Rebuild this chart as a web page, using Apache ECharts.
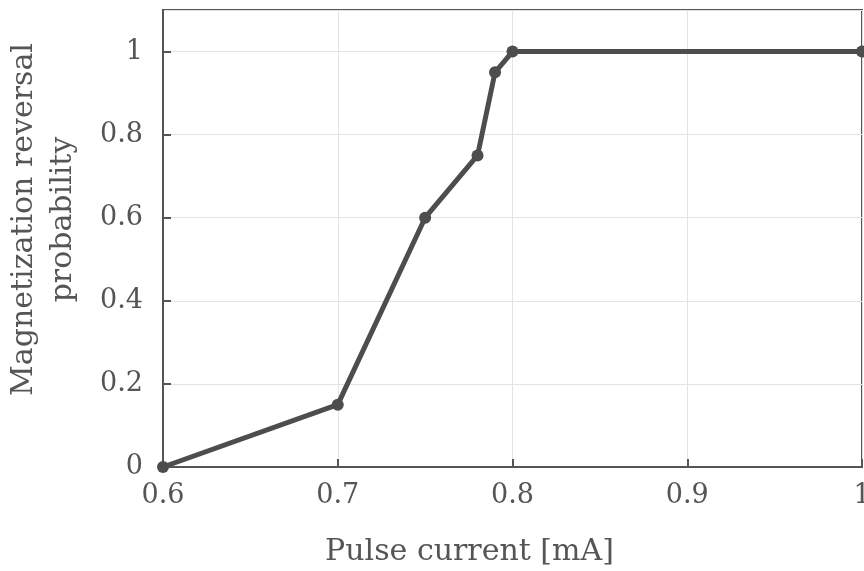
<!DOCTYPE html>
<html>
<head>
<meta charset="utf-8">
<script src="https://cdn.jsdelivr.net/npm/echarts@6/dist/echarts.min.js"></script>
<style>
  html, body { margin: 0; padding: 0; background: #fff; }
  #main { width: 864px; height: 571px; }
</style>
</head>
<body>
<div id="main"></div>
<script>
var current = [0.6, 0.7, 0.75, 0.78, 0.79, 0.8, 1.0];
var probability = [0, 0.15, 0.6, 0.75, 0.95, 1, 1];
var xTitle = 'Pulse current [mA]';
var yTitle = 'Magnetization reversal\nprobability';

var chart = echarts.init(document.getElementById('main'));
var ink = '#555';
var font = 'DejaVu Serif';

chart.setOption({
    animation: false,
    textStyle: { fontFamily: font },
    grid: {
        left: 163, right: 2, top: 10, bottom: 104,
        outerBoundsMode: 'none',
        show: true, borderColor: ink, borderWidth: 2
    },
    xAxis: {
        type: 'value',
        min: 0.6,
        max: 1.0,
        interval: 0.1,
        name: xTitle,
        nameLocation: 'middle',
        nameGap: 70,
        nameTextStyle: {
            color: ink, fontSize: 30, fontFamily: font,
            padding: [0, 86, 0, 0]
        },
        axisLine: { show: true, lineStyle: { color: ink, width: 2 } },
        axisTick: { show: true, inside: true, length: 8, lineStyle: { color: ink, width: 2 } },
        axisLabel: {
            color: ink, fontSize: 27, fontFamily: font, margin: 15,
            formatter: function(v) { return v === 1 ? '1' : v.toFixed(1); }
        },
        splitLine: { show: true, lineStyle: { color: '#e3e3e3', width: 1 } }
    },
    yAxis: {
        type: 'value',
        min: 0,
        max: 1.1,
        interval: 0.2,
        name: yTitle,
        nameLocation: 'middle',
        nameGap: 80,
        nameTextStyle: {
            color: ink, fontSize: 30, fontFamily: font, lineHeight: 39,
            padding: [0, 0, 0, 38]
        },
        axisLine: { show: true, lineStyle: { color: ink, width: 2 } },
        axisTick: { show: true, inside: true, length: 8, lineStyle: { color: ink, width: 2 } },
        axisLabel: {
            color: ink, fontSize: 27, fontFamily: font, margin: 20,
            showMaxLabel: false,
            formatter: function(v) { return v === 0 || v === 1 ? String(v) : v.toFixed(1); }
        },
        splitLine: { show: true, lineStyle: { color: '#e3e3e3', width: 1 } }
    },
    series: [{
        type: 'line',
        data: current.map(function(x, i) { return [x, probability[i]]; }),
        symbol: 'circle',
        symbolSize: 12,
        lineStyle: { color: '#4d4d4d', width: 5 },
        itemStyle: { color: '#4d4d4d' },
        clip: false
    }]
});
</script>
</body>
</html>
